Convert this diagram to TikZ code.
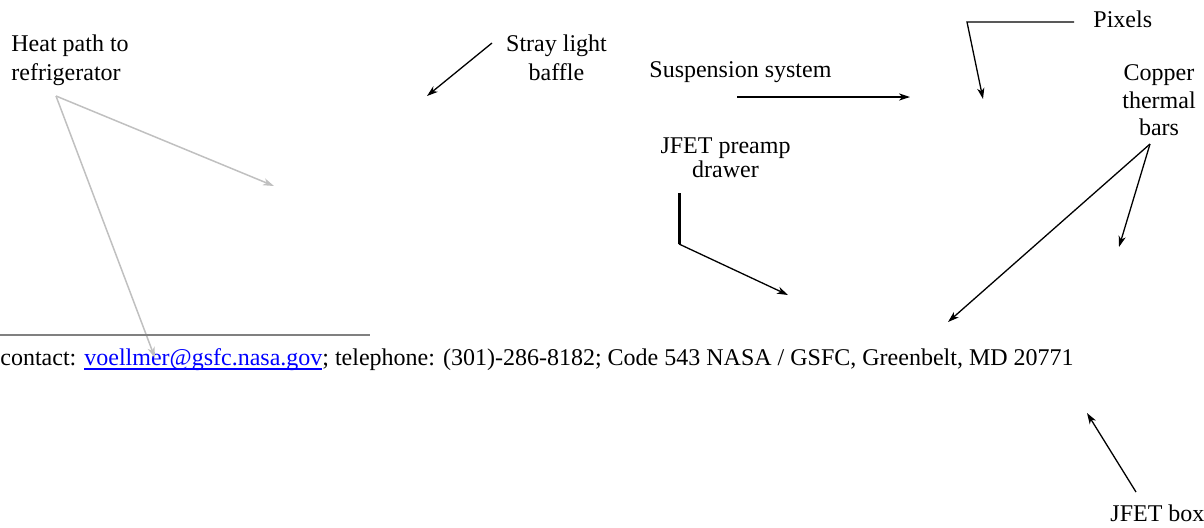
\documentclass[tikz,border=0pt]{standalone}
\usepackage{fontspec}
\setmainfont{Liberation Serif}
\usetikzlibrary{arrows.meta}
\definecolor{linkblue}{RGB}{0,0,255}
\definecolor{heatgray}{RGB}{192,192,192}
\definecolor{rulegray}{RGB}{128,128,128}
\newsavebox{\mailtext}
\newcommand*{\mail}[1]{\textcolor{linkblue}{\sbox{\mailtext}{#1}%
  \rlap{\rule[-2.4pt]{\wd\mailtext}{0.7pt}}\usebox{\mailtext}}}

\begin{document}
\begin{tikzpicture}[x=0.5pt,y=-0.5pt,>={Stealth[length=5.5pt,width=3.6pt,inset=1.6pt]},
      lbl/.style={inner sep=0pt,font=\fontsize{12}{14.5}\selectfont},
      ptr/.style={->,line width=0.65pt},
      heat/.style={->,draw=heatgray,line width=0.75pt}]
      \useasboundingbox (0,0) rectangle (1204,527);
      % labels (base = baseline of the last line)
      \node[lbl, anchor=base west, align=left]   (heatpath) at (11,80.7) {Heat path to\\refrigerator};
      \node[lbl, anchor=base, align=center]      (baffle) at (556.5,80) {Stray light\\baffle};
      \node[lbl, anchor=base west]               (susp) at (649,77) {Suspension system};
      \node[lbl, anchor=base west]               (pixels) at (1093,27.5) {Pixels};
      \node[lbl, anchor=base, align=center, font=\fontsize{12}{13.75}\selectfont]
                                                 (copper) at (1159,135.5) {Copper\\thermal\\bars};
      \node[lbl, anchor=base, align=center, font=\fontsize{12}{12}\selectfont]
                                                 (preamp) at (725.5,177.5) {JFET preamp\\drawer};
      \node[lbl, anchor=base west]               (jfetbox) at (1110,521.7) {JFET box};
      \node[lbl, anchor=base west]               (footer) at (0,365)
            {contact: \mail{voellmer@gsfc.nasa.gov}; telephone: (301)-286-8182; Code 543 NASA / GSFC, Greenbelt, MD 20771};
      % ends of the pointers
      \coordinate (h0) at (56,96);
      \coordinate (h1) at (274,186);
      \coordinate (h2) at (155,358);
      \coordinate (b0) at (492,43);
      \coordinate (b1) at (427,96);
      \coordinate (s0) at (737,97);
      \coordinate (s1) at (910,97);
      \coordinate (p0) at (1074,22);
      \coordinate (p1) at (967,22);
      \coordinate (p2) at (983,99);
      \coordinate (c0) at (1150,144);
      \coordinate (c1) at (1119,247);
      \coordinate (c2) at (948,322);
      \coordinate (d0) at (679,193);
      \coordinate (d1) at (679,244);
      \coordinate (d2) at (788,295);
      \coordinate (j0) at (1136,492);
      \coordinate (j1) at (1087,413);
      \coordinate (r0) at (0,334.5);
      \coordinate (r1) at (370,334.5);
      % pointers
      \draw[heat] (h0) -- (h1);
      \draw[heat] (h0) -- (h2);
      \draw[ptr] (b0) -- (b1);
      \draw[ptr] (s0) -- (s1);
      \draw[ptr] (p0) -- (p1) -- (p2);
      \draw[ptr] (c0) -- (c1);
      \draw[ptr] (c0) -- (c2);
      \draw[line width=1.5pt] (d0) -- (d1);
      \draw[ptr] (d1) -- (d2);
      \draw[ptr] (j0) -- (j1);
      \draw[rulegray, line width=1pt] (r0) -- (r1);
    \end{tikzpicture}
\end{document}
